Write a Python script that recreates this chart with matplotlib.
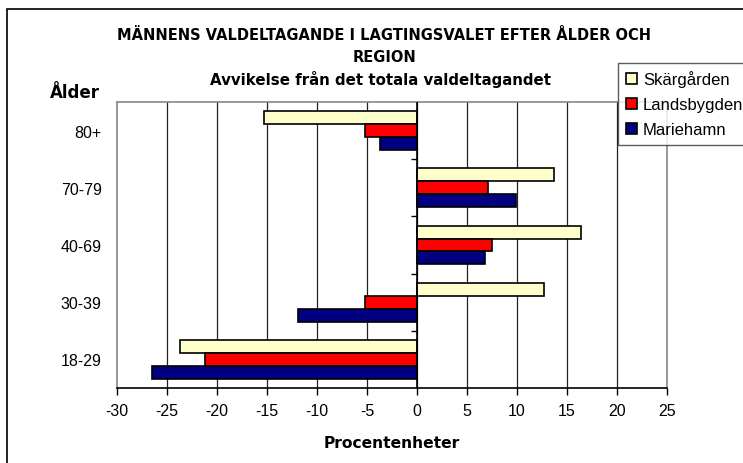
import numpy as np
import matplotlib
matplotlib.use("Agg")
import matplotlib.pyplot as plt
from matplotlib.patches import Rectangle

plt.rcParams['font.family'] = ['Liberation Sans', 'DejaVu Sans']
plt.rcParams['axes.unicode_minus'] = False

# data (deviation in percentage points)
ages = ['18-29', '30-39', '40-69', '70-79', '80+']
skargarden = [-23.7, 12.7, 16.4, 13.7, -15.3]
landsbygden = [-21.2, -5.2, 7.5, 7.1, -5.2]
mariehamn = [-26.5, -11.9, 6.8, 9.9, -3.7]

series = [('Skärgården', skargarden, '#FFFFCC'),
          ('Landsbygden', landsbygden, '#FF0000'),
          ('Mariehamn', mariehamn, '#000080')]

fig = plt.figure(figsize=(7.43, 4.64), dpi=100)
ax = fig.add_axes([117/743, 1-389/464, 550/743, 286/464])

y = np.arange(len(ages))
h = 0.227
offsets = [h, 0, -h]
bars = []
for (name, vals, col), off in zip(series, offsets):
    b = ax.barh(y + off, vals, height=h, color=col, edgecolor='black',
                linewidth=1.2, label=name, zorder=3)
    bars.append(b)

ax.set_xlim(-30, 25)
ax.set_ylim(-0.5, len(ages) - 0.5)
ax.set_xticks(np.arange(-30, 26, 5))
ax.tick_params(axis='x', direction='out', length=5, width=1, labelsize=11.5, pad=6)
ax.set_yticks(y)
ax.set_yticklabels(ages, fontsize=11.5)
ax.tick_params(axis='y', length=0, pad=11)

for v in range(-25, 25, 5):
    ax.axvline(v, color='#222222', linewidth=0.9, zorder=1)
ax.axvline(0, color='black', linewidth=1.2, zorder=4)
# small ticks on the zero axis between categories
bounds = np.arange(len(ages) - 1) + 0.5
ax.plot(np.zeros(len(bounds)), bounds, linestyle='none', marker=0,
        markersize=4, color='black', zorder=4)

for s in ['left', 'right', 'top']:
    ax.spines[s].set_color('#888888')
    ax.spines[s].set_linewidth(1.2)
ax.spines['bottom'].set_color('black')
ax.spines['bottom'].set_linewidth(1.2)

ax.set_xlabel('Procentenheter', fontsize=11.2, fontweight='bold', labelpad=12,
              family='DejaVu Sans')

fig.text(384/743, 1-35/464, 'MÄNNENS VALDELTAGANDE I LAGTINGSVALET EFTER ÅLDER OCH',
         ha='center', va='center', fontsize=10.5, fontweight='bold', family='DejaVu Sans')
fig.text(384/743, 1-57/464, 'REGION', ha='center', va='center',
         fontsize=10.5, fontweight='bold', family='DejaVu Sans')
fig.text(380/743, 1-79/464, 'Avvikelse från det totala valdeltagandet',
         ha='center', va='center', fontsize=10.8, fontweight='bold', family='DejaVu Sans')
fig.text(75/743, 1-93/464, 'Ålder', ha='center', va='center',
         fontsize=12, fontweight='bold', family='DejaVu Sans')

# outer chart frame
fig.patches.append(Rectangle((7/743, -0.1), 1.2, 1 - 10/464 + 0.1,
                             transform=fig.transFigure, fill=False,
                             edgecolor='black', linewidth=1.2, zorder=0))

leg = fig.legend(handles=bars, labels=[s[0] for s in series],
                 loc='upper left', bbox_to_anchor=(618/743, 1-64/464),
                 frameon=True, fancybox=False, fontsize=12,
                 handlelength=0.7, handleheight=0.7, handletextpad=0.35,
                 labelspacing=0.6, borderpad=0.45, borderaxespad=0)
leg.get_frame().set_edgecolor('#333333')
leg.get_frame().set_linewidth(1.0)

fig.savefig('out.png', dpi=100)
